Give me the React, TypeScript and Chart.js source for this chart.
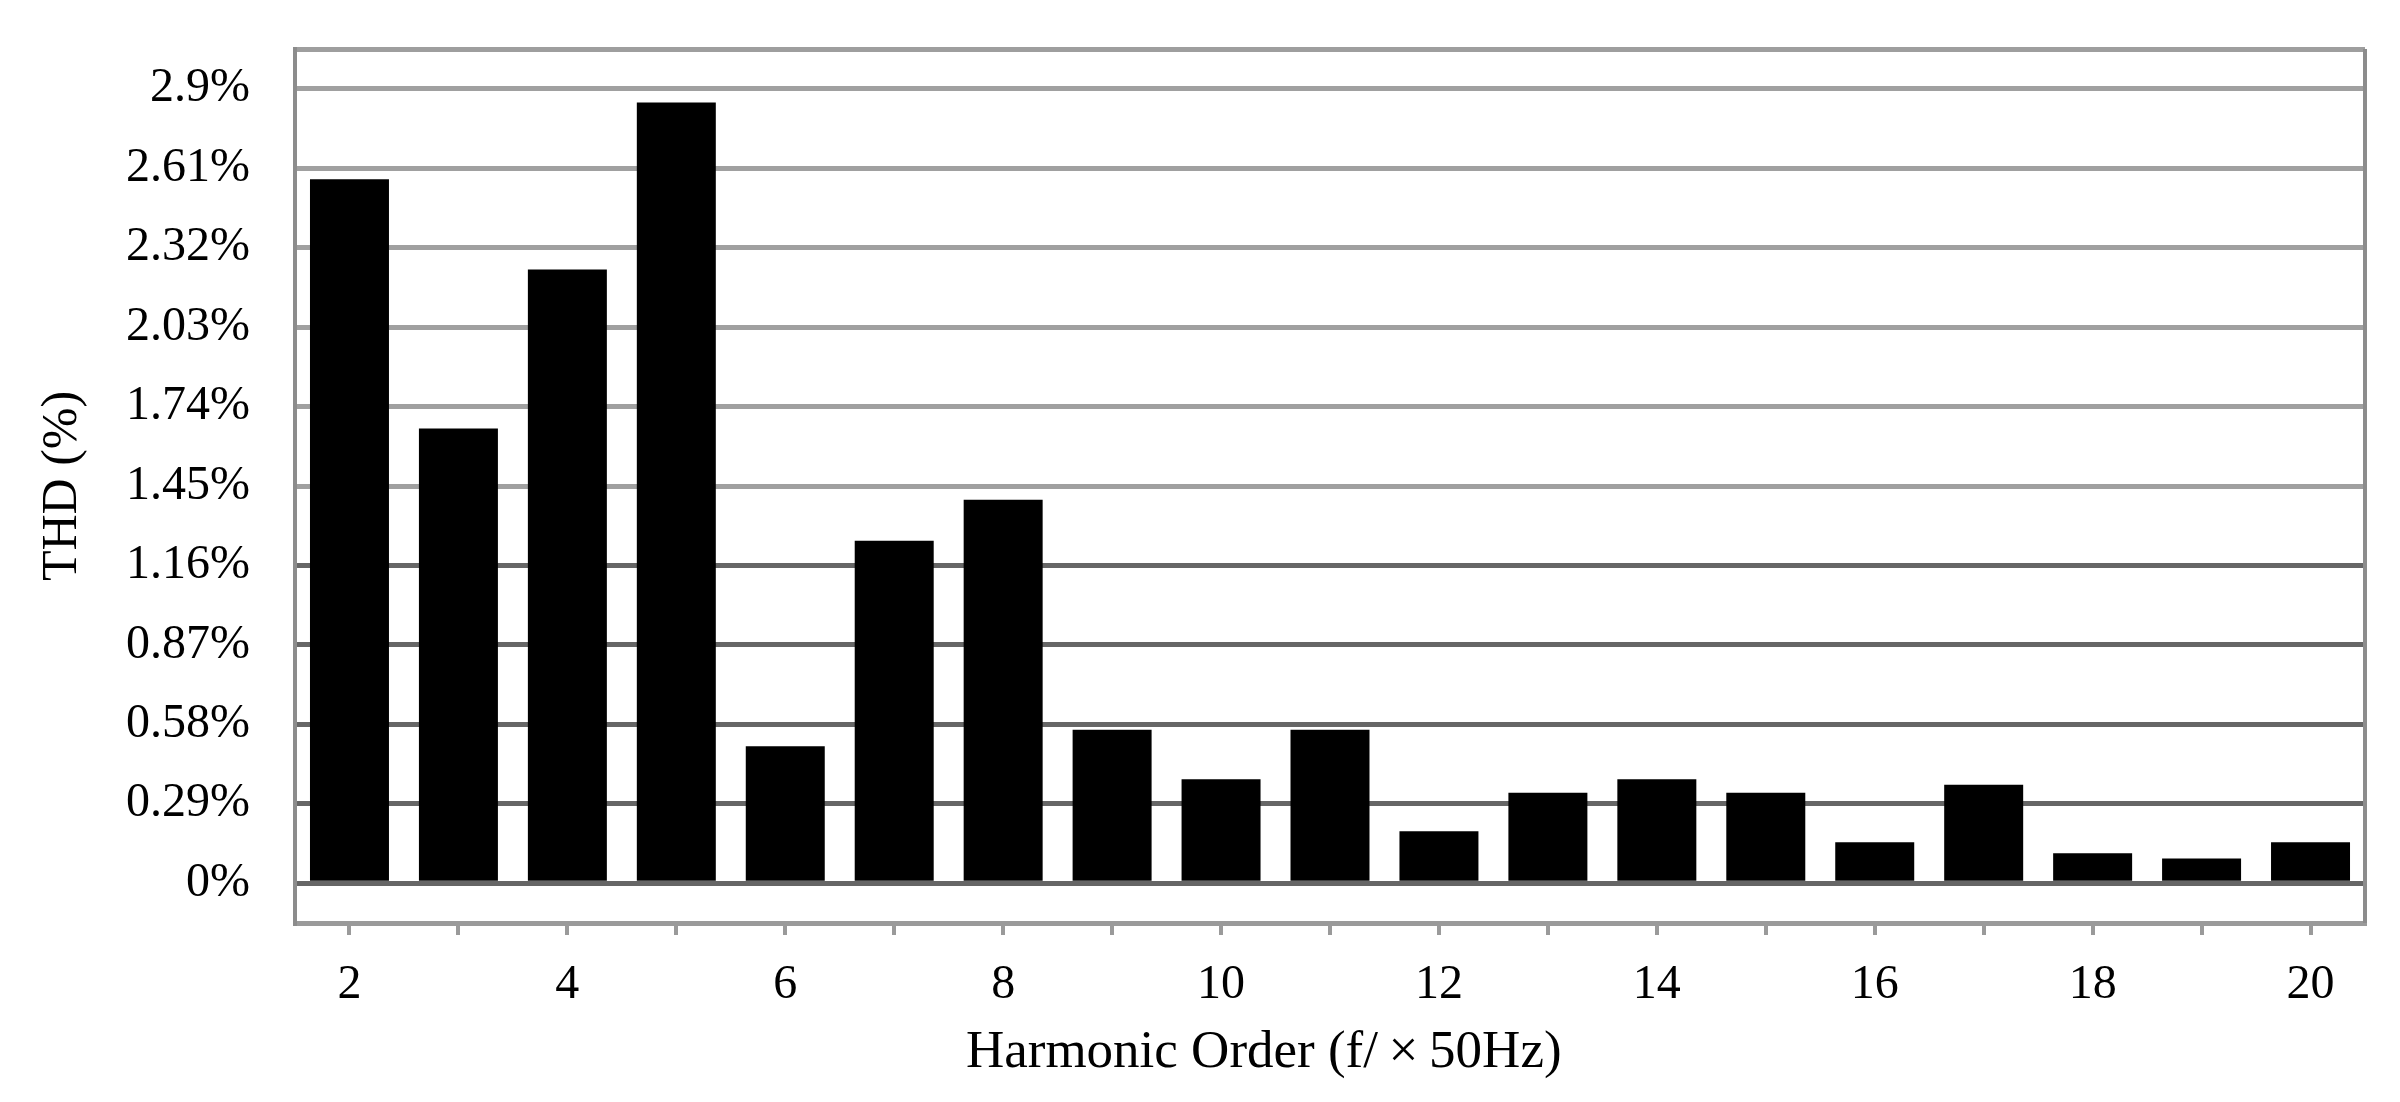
import React, { useEffect, useRef } from "react";
import { Chart, registerables } from "chart.js";

Chart.register(...registerables);

const categories = [2, 3, 4, 5, 6, 7, 8, 9, 10, 11, 12, 13, 14, 15, 16, 17, 18, 19, 20];
const thdValues = [2.57, 1.66, 2.24, 2.85, 0.5, 1.25, 1.4, 0.56, 0.38, 0.56, 0.19, 0.33, 0.38, 0.33, 0.15, 0.36, 0.11, 0.09, 0.15];
const yTickValues = [0, 0.29, 0.58, 0.87, 1.16, 1.45, 1.74, 2.03, 2.32, 2.61, 2.9];
const yTickLabels = ["0%", "0.29%", "0.58%", "0.87%", "1.16%", "1.45%", "1.74%", "2.03%", "2.32%", "2.61%", "2.9%"];
const xLabelShown = [2, 4, 6, 8, 10, 12, 14, 16, 18, 20];
const yMin = -0.145;
const yMax = 3.045;

const FONT = "'Liberation Serif', 'Times New Roman', serif";

export default function App() {
  const ref = useRef<HTMLCanvasElement | null>(null);

  useEffect(() => {
    if (!ref.current) return;
    const frame = {
      id: "frameRight",
      beforeDatasetsDraw(chart: any) {
        const { ctx, chartArea } = chart;
        ctx.save();
        ctx.strokeStyle = "#8c8c8c";
        ctx.lineWidth = 4;
        ctx.beginPath();
        ctx.moveTo(chartArea.right, chartArea.top);
        ctx.lineTo(chartArea.right, chartArea.bottom);
        ctx.stroke();
        ctx.restore();
      },
    };
    const chart = new Chart(ref.current, {
      type: "bar",
      data: {
        labels: categories.map(String),
        datasets: [
          {
            data: thdValues,
            backgroundColor: "#000000",
            borderWidth: 0,
            categoryPercentage: 1,
            barPercentage: 0.725,
          },
        ],
      },
      options: {
        responsive: false,
        animation: false,
        layout: { padding: { top: 49, right: 35, left: 0, bottom: 0 } },
        plugins: { legend: { display: false }, tooltip: { enabled: false } },
        scales: {
          x: {
            grid: {
              display: true,
              drawOnChartArea: false,
              drawTicks: true,
              tickLength: 12,
              offset: false,
              color: "#9a9a9a",
              lineWidth: 4,
            },
            border: { display: true, color: "#9a9a9a", width: 5 },
            ticks: {
              autoSkip: false,
              maxRotation: 0,
              padding: 22,
              color: "#000",
              font: { family: FONT, size: 48 },
              callback: (_v: any, i: number) =>
                xLabelShown.includes(categories[i]) ? String(categories[i]) : "",
            },
            title: {
              display: true,
              text: "Harmonic Order (f/\u2009\u00D7\u200950Hz)\u2002\u2002\u2002\u2002\u2002",
              color: "#000",
              font: { family: FONT, size: 53 },
              padding: { top: 0, bottom: 17 },
            },
            afterFit: (s: any) => {
              s.height = 179;
              s.paddingLeft = 0;
              s.paddingRight = 0;
            },
          },
          y: {
            min: yMin,
            max: yMax,
            afterBuildTicks: (s: any) => {
              s.ticks = [yMin, ...yTickValues, yMax].map((v) => ({ value: v }));
            },
            grid: {
              drawTicks: false,
              color: (c: any) => {
                const v = c.tick ? c.tick.value : 0;
                if (v > 3) return "#9e9e9e";
                return v <= 1.2 ? "#666666" : "#a0a0a0";
              },
              lineWidth: 5,
            },
            border: { display: true, color: "#8c8c8c", width: 4 },
            ticks: {
              padding: 45,
              color: "#000",
              font: { family: FONT, size: 48 },
              callback: (v: any) => {
                const idx = yTickValues.findIndex((t) => Math.abs(t - v) < 1e-6);
                return idx >= 0 ? yTickLabels[idx] : "";
              },
            },
            title: {
              display: true,
              text: "THD (%)",
              color: "#000",
              font: { family: FONT, size: 50 },
              padding: { top: 33, bottom: 0 },
            },
            afterFit: (s: any) => {
              s.width = 295;
              s.paddingTop = 0;
              s.paddingBottom = 0;
            },
          },
        },
      },
      plugins: [frame],
    });
    return () => chart.destroy();
  }, []);

  return (
    <div style={{ position: "fixed", left: 0, top: 0, width: 2400, height: 1102, background: "#fff" }}>
      <canvas ref={ref} width={2400} height={1102} style={{ display: "block", width: 2400, height: 1102 }} />
    </div>
  );
}
